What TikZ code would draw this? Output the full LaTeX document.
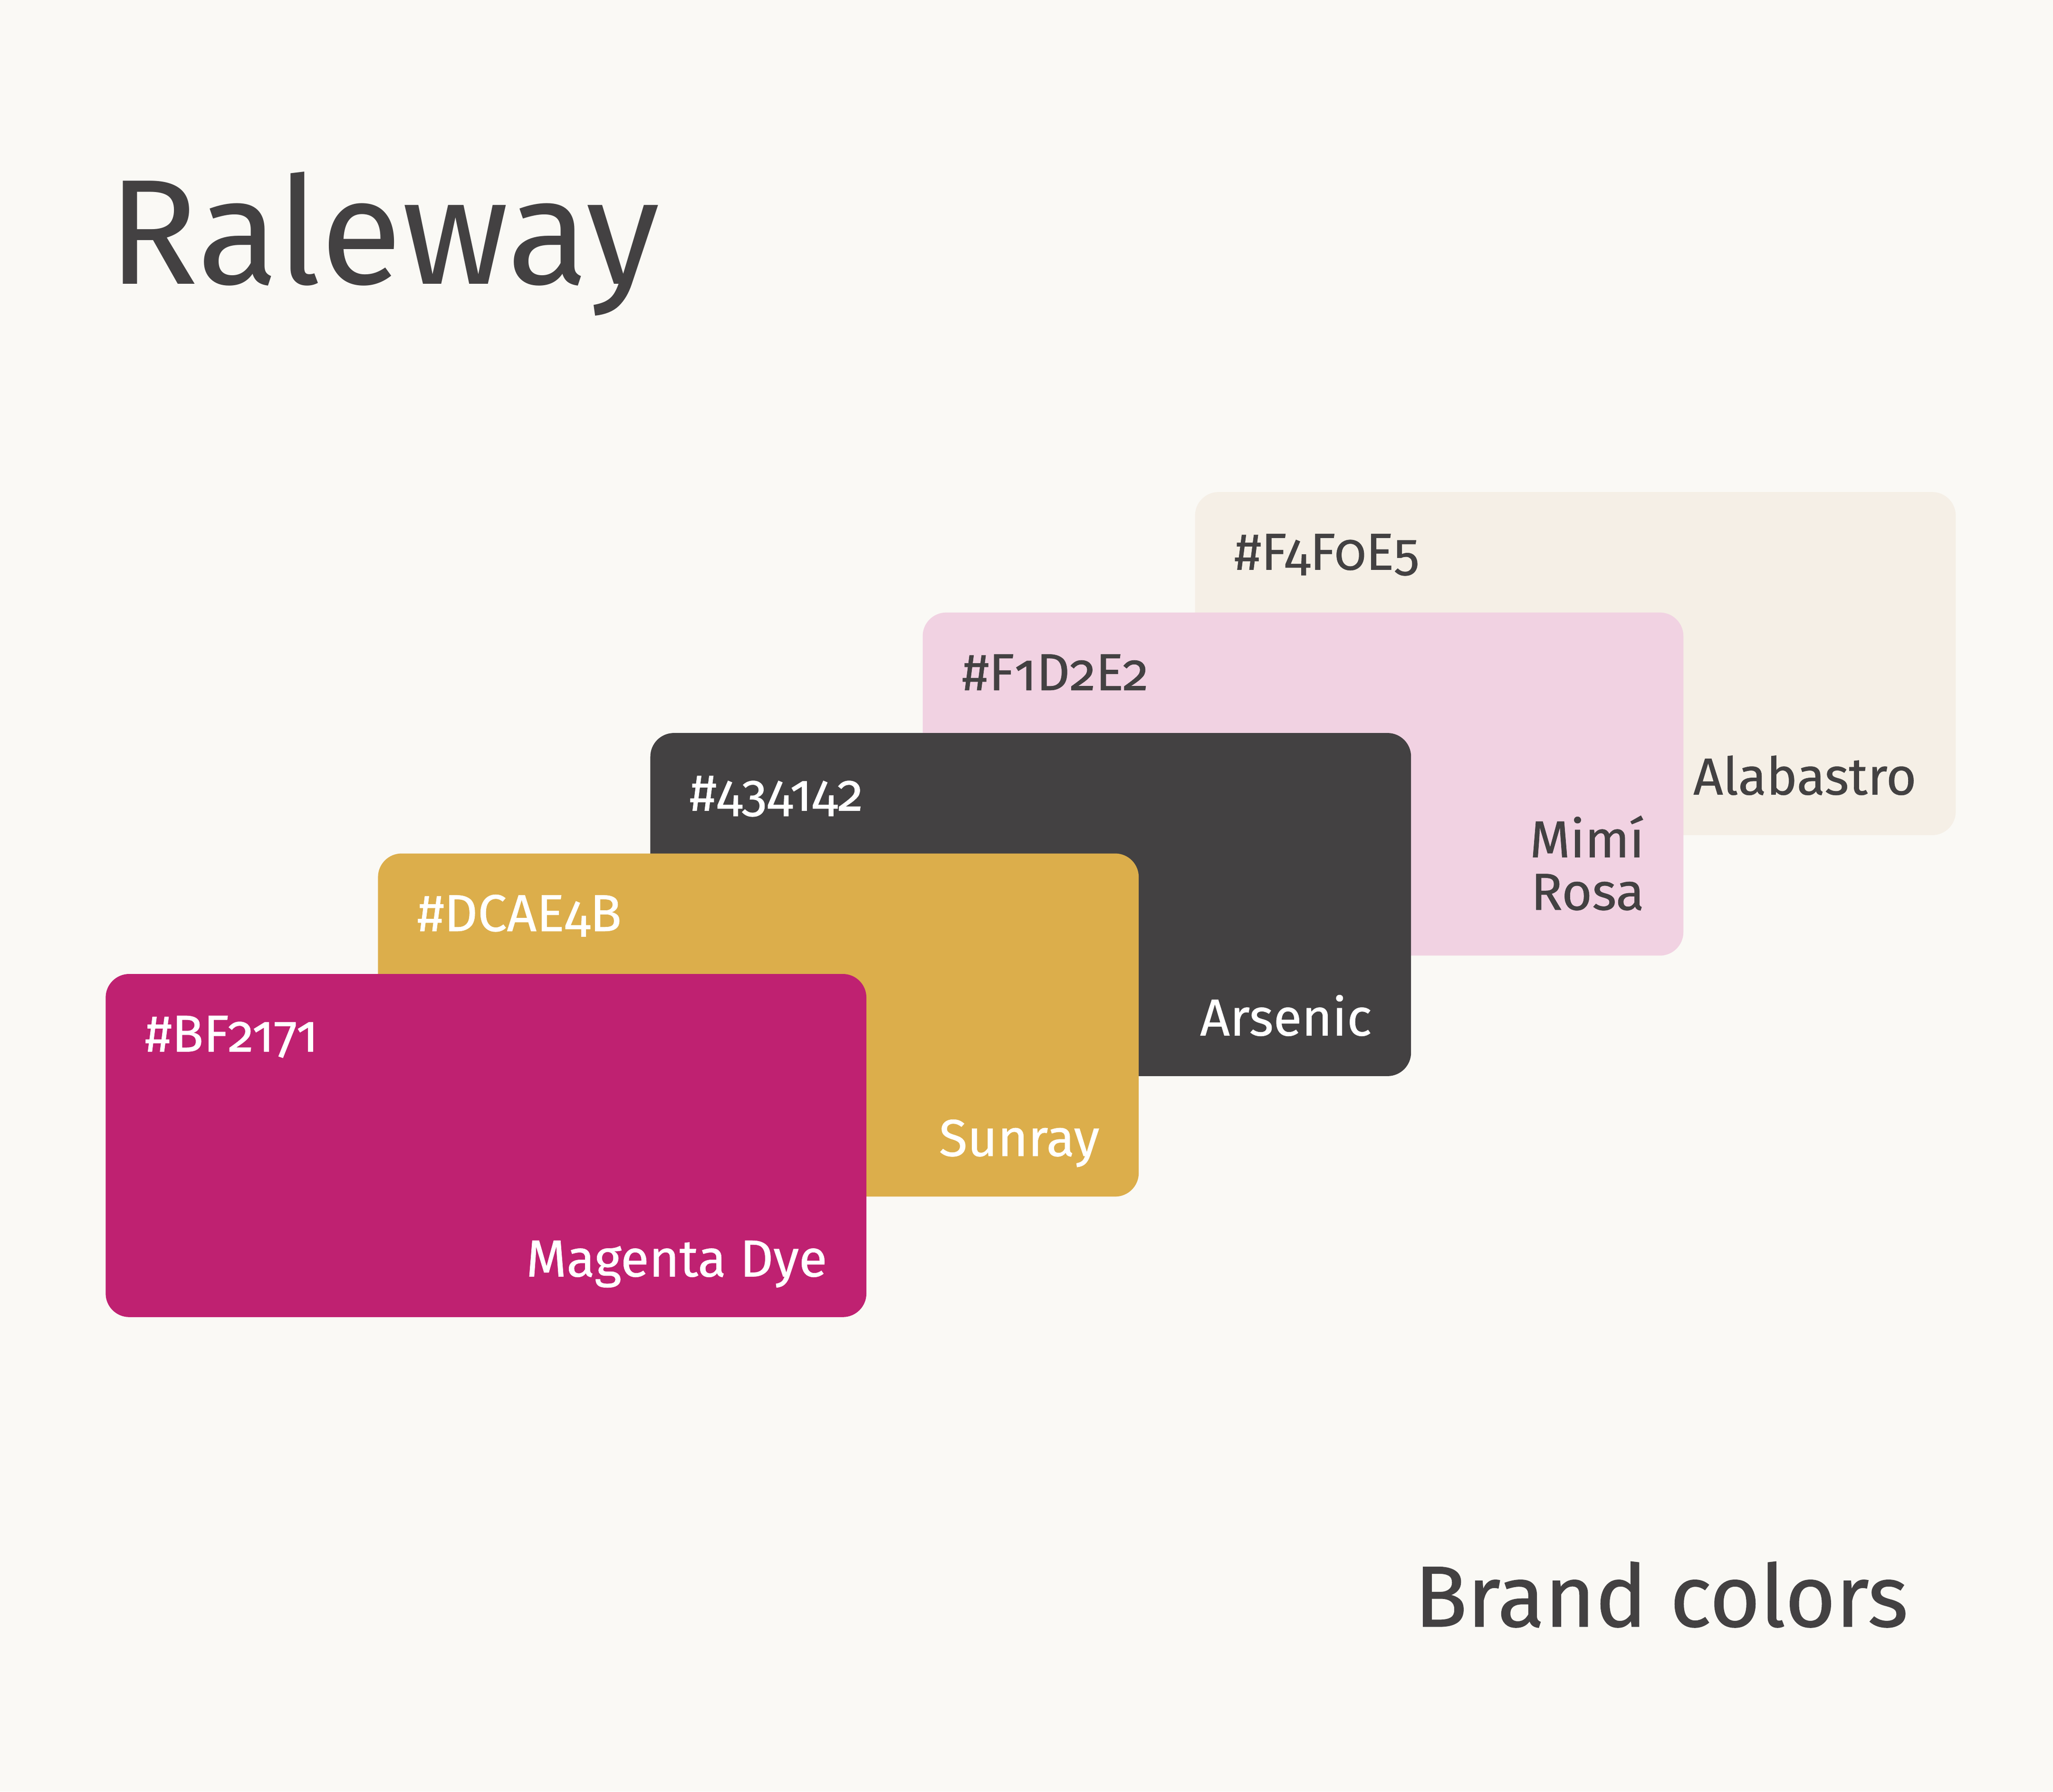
\documentclass[tikz,border=0pt]{standalone}
\usepackage{fontspec}
\setmainfont{Fira Sans}[Numbers=OldStyle]
\definecolor{paper}{HTML}{FAF9F5}
\definecolor{ink}{HTML}{434142}
\definecolor{alab}{HTML}{F5EFE6}
\definecolor{mimi}{HTML}{F1D2E2}
\definecolor{arsenic}{HTML}{434142}
\definecolor{sunray}{HTML}{DCAE4B}
\definecolor{magenta}{HTML}{BF2171}

\begin{document}
\begin{tikzpicture}[
        card/.style={anchor=north west,rounded corners=0.18cm,minimum width=5.81cm,minimum height=2.62cm,inner sep=0pt},
        swatch/.style={inner sep=0pt,font=\fontsize{11.3}{11.4}\selectfont\addfontfeature{FakeBold=0.6}}]
        \useasboundingbox[fill=paper](0,0)rectangle(15.68,-13.68);
        \node[anchor=base west,inner sep=0pt,text=ink,font=\fontsize{32.5}{36}\selectfont](title)at(0.82,-2.17){Raleway};
        \foreach \i/\col/\txt/\hex/\nm/\up in {0/alab/ink/F4F0E5/Alabastro/0.31,1/mimi/ink/F1D2E2/{Mim\'i\\Rosa}/0.35,2/arsenic/white/434142/Arsenic/0.31,3/sunray/white/DCAE4B/Sunray/0.31,4/magenta/white/BF2171/Magenta Dye/0.31}{
            \node[card,fill=\col](c\i)at(9.12-2.08*\i,-3.75-0.92*\i){};
            \node[swatch,anchor=base west,text=\txt](h\i)at([xshift=0.30cm,yshift=-0.60cm]c\i.north west){\#\hex};
            \node[swatch,anchor=south east,align=right,text depth=0pt,text=\txt](n\i)at([xshift=-0.30cm,yshift=\up cm]c\i.south east){\nm};
        }
        \node[anchor=base east,inner sep=0pt,text=ink,font=\fontsize{18.8}{22}\selectfont\addfontfeature{FakeBold=0.8}](brand)at(14.58,-12.42){Brand colors};
    \end{tikzpicture}
\end{document}
